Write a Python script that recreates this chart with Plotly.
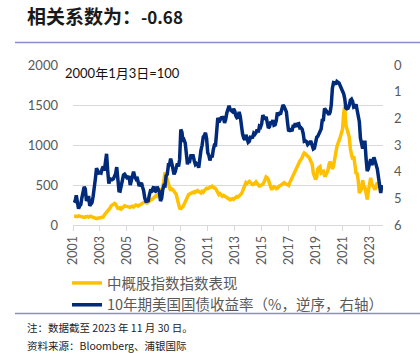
import pandas as pd
import plotly.graph_objects as go

# monthly month-end dates, Jan 2001 .. Nov 2023
dates = pd.date_range("2001-01-31", "2023-11-30", freq="ME")

# 中概股指数 (2000-01-03 = 100)
china_adr = [
    112, 108, 100, 105, 115, 110, 105, 98, 90, 95, 100, 105,
    108, 100, 105, 110, 100, 95, 85, 88, 80, 85, 90, 85,
    90, 95, 100, 125, 140, 160, 180, 200, 210, 240, 250, 255,
    270, 260, 230, 210, 205, 215, 200, 210, 225, 240, 235, 230,
    235, 225, 220, 230, 235, 225, 240, 250, 245, 235, 245, 255,
    265, 270, 280, 290, 280, 275, 285, 295, 300, 310, 320, 330,
    350, 370, 360, 380, 400, 420, 450, 470, 560, 660, 620, 560,
    480, 470, 430, 450, 440, 420, 400, 380, 320, 240, 210, 205,
    215, 230, 260, 300, 330, 350, 380, 390, 395, 400, 410, 405,
    420, 415, 430, 420, 410, 400, 420, 410, 430, 450, 460, 455,
    465, 475, 480, 485, 470, 460, 455, 430, 395, 380, 390, 370,
    360, 370, 360, 350, 340, 330, 320, 315, 325, 330, 320, 330,
    345, 355, 350, 360, 380, 390, 420, 460, 500, 530, 520, 540,
    545, 530, 520, 505, 510, 530, 540, 520, 500, 485, 490, 495,
    510, 530, 560, 600, 590, 570, 520, 460, 440, 470, 480, 470,
    455, 460, 480, 490, 495, 510, 520, 530, 520, 510, 500, 495,
    530, 560, 580, 600, 640, 680, 710, 750, 780, 800, 820, 840,
    880, 900, 890, 870, 860, 850, 820, 800, 760, 650, 600, 570,
    600, 700, 720, 730, 650, 660, 670, 620, 620, 650, 680, 760,
    790, 760, 700, 740, 800, 900, 980, 1040, 1060, 1100, 1150, 1200,
    1400, 1480, 1250, 1200, 1150, 1100, 950, 850, 820, 860, 780, 650,
    640, 560, 400, 430, 450, 560, 480, 470, 400, 320, 420, 540,
    590, 520, 500, 470, 440, 490, 530, 480, 470, 440, 450,
]

# 10年期美国国债收益率 (%)
ust10y = [
    5.16, 5.10, 4.89, 5.14, 5.39, 5.28, 5.24, 4.97, 4.73, 4.57, 4.65, 5.09,
    5.04, 4.91, 5.28, 5.21, 5.16, 4.93, 4.65, 4.26, 3.87, 3.94, 4.05, 4.03,
    4.05, 3.90, 3.81, 3.96, 3.57, 3.33, 3.98, 4.45, 4.27, 4.29, 4.30, 4.27,
    4.15, 4.08, 3.83, 4.35, 4.72, 4.73, 4.50, 4.28, 4.13, 4.10, 4.19, 4.23,
    4.22, 4.17, 4.50, 4.34, 4.14, 4.00, 4.18, 4.26, 4.20, 4.46, 4.54, 4.47,
    4.42, 4.57, 4.72, 4.99, 5.11, 5.11, 5.09, 4.88, 4.72, 4.73, 4.60, 4.56,
    4.76, 4.72, 4.56, 4.69, 4.75, 5.10, 5.00, 4.67, 4.52, 4.53, 4.15, 4.10,
    3.74, 3.74, 3.51, 3.68, 3.88, 4.10, 4.01, 3.89, 3.69, 3.81, 3.53, 2.42,
    2.52, 2.87, 2.82, 2.93, 3.29, 3.72, 3.56, 3.59, 3.40, 3.39, 3.40, 3.59,
    3.73, 3.69, 3.73, 3.85, 3.42, 3.20, 3.01, 2.70, 2.65, 2.54, 2.76, 3.29,
    3.39, 3.58, 3.41, 3.46, 3.17, 3.00, 3.00, 2.30, 1.98, 2.15, 2.01, 1.98,
    1.97, 1.97, 2.17, 2.05, 1.80, 1.62, 1.53, 1.68, 1.72, 1.75, 1.65, 1.72,
    1.91, 1.98, 1.96, 1.76, 1.93, 2.30, 2.58, 2.74, 2.81, 2.62, 2.72, 2.90,
    2.86, 2.71, 2.72, 2.71, 2.56, 2.60, 2.54, 2.42, 2.53, 2.30, 2.33, 2.21,
    1.88, 1.98, 2.04, 1.94, 2.20, 2.36, 2.32, 2.17, 2.17, 2.07, 2.26, 2.24,
    2.09, 1.78, 1.89, 1.81, 1.81, 1.64, 1.50, 1.56, 1.63, 1.76, 2.14, 2.49,
    2.43, 2.42, 2.48, 2.30, 2.30, 2.19, 2.32, 2.21, 2.20, 2.36, 2.35, 2.40,
    2.58, 2.86, 2.84, 2.87, 2.98, 2.91, 2.89, 2.89, 3.00, 3.15, 3.12, 2.83,
    2.71, 2.68, 2.57, 2.53, 2.40, 2.07, 2.06, 1.63, 1.70, 1.71, 1.81, 1.86,
    1.76, 1.50, 0.87, 0.66, 0.67, 0.73, 0.62, 0.65, 0.68, 0.79, 0.87, 0.93,
    1.08, 1.26, 1.61, 1.64, 1.62, 1.52, 1.32, 1.28, 1.37, 1.58, 1.56, 1.47,
    1.76, 1.93, 2.13, 2.75, 2.90, 3.14, 2.90, 2.90, 3.52, 3.98, 3.89, 3.62,
    3.53, 3.75, 3.66, 3.46, 3.57, 3.75, 3.90, 4.17, 4.38, 4.80, 4.50,
]

left_ticks = [0, 500, 1000, 1500, 2000]
right_ticks = [0, 1, 2, 3, 4, 5, 6]

name_adr = "中概股指数指数表现"
name_ust = "10年期美国国债收益率（%，逆序，右轴）"

YELLOW = "#FFC000"
NAVY = "#002A7A"
GRAY = "#595959"
GRID = "#D9D9D9"
PURPLE = "#8C8CC8"
CJK = "Noto Sans CJK SC"
LAT = "Lato, Noto Sans CJK SC"

fig = go.Figure()
fig.add_trace(go.Scatter(x=dates, y=china_adr, name=name_adr, mode="lines",
                         line=dict(color=YELLOW, width=3.5)))
fig.add_trace(go.Scatter(x=dates, y=ust10y, name=name_ust, mode="lines",
                         yaxis="y2", line=dict(color=NAVY, width=3.5)))

L, R, T, B = 73, 383, 65, 225
W, H = 420, 353
pw, ph = R - L, B - T


def px(xp):
    return (xp - L) / pw


def py(yp):
    return (B - yp) / ph


fig.update_layout(
    width=W, height=H,
    margin=dict(l=L, r=W - R, t=T, b=H - B),
    paper_bgcolor="white", plot_bgcolor="white",
    font=dict(family=LAT, color=GRAY, size=12),
    showlegend=True,
    legend=dict(x=px(67), y=py(267), xanchor="left", yanchor="top",
                font=dict(family=CJK, size=14.5, color=GRAY),
                bgcolor="rgba(0,0,0,0)", tracegroupgap=0,
                itemwidth=30, traceorder="normal"),
    xaxis=dict(type="date", range=["2001-01-01", "2024-01-01"],
               tick0="2001-01-01", dtick="M24", tickformat="%Y",
               tickangle=-90, ticks="outside", ticklen=5, tickcolor=GRID,
               showline=True, linecolor=GRID, linewidth=1,
               showgrid=False, zeroline=False,
               tickfont=dict(family=LAT, size=12.5, color=GRAY)),
    yaxis=dict(range=[0, 2000], tickvals=left_ticks,
               showgrid=True, gridcolor=GRID, gridwidth=1,
               zeroline=False, showline=False,
               ticklabelstandoff=14,
               tickfont=dict(family=LAT, size=13, color=GRAY)),
    yaxis2=dict(range=[6, 0], tickvals=right_ticks, overlaying="y",
                side="right", showgrid=False, zeroline=False, showline=False,
                ticklabelstandoff=10,
                tickfont=dict(family=LAT, size=13, color=GRAY)),
)

# title
fig.add_annotation(xref="paper", yref="paper", x=px(25), y=py(15),
                   xanchor="left", yanchor="middle", showarrow=False,
                   text="<b>相关系数为：<span style='font-size:17px'>-0.68</span></b>",
                   font=dict(family=CJK, size=19, color="#1a1a1a"))
# divider lines
fig.add_shape(type="line", xref="paper", yref="paper",
              x0=px(15), x1=px(420), y0=py(42.5), y1=py(42.5),
              line=dict(color=PURPLE, width=1.5))
fig.add_shape(type="line", xref="paper", yref="paper",
              x0=px(15), x1=px(420), y0=py(313.5), y1=py(313.5),
              line=dict(color=PURPLE, width=1.5))
# base note
fig.add_annotation(xref="paper", yref="paper", x=px(63), y=py(73),
                   xanchor="left", yanchor="middle", showarrow=False,
                   text="2000年1月3日=100",
                   font=dict(family=LAT, size=13, color="#111111"))
# footnotes
fig.add_annotation(xref="paper", yref="paper", x=px(25), y=py(327),
                   xanchor="left", yanchor="middle", showarrow=False,
                   text="注：数据截至 2023 年 11 月 30 日。",
                   font=dict(family=CJK, size=10.5, color="#222222"))
fig.add_annotation(xref="paper", yref="paper", x=px(25), y=py(345),
                   xanchor="left", yanchor="middle", showarrow=False,
                   text="资料来源：Bloomberg、浦银国际",
                   font=dict(family=CJK, size=10.5, color="#222222"))

fig.write_html("out.html")
